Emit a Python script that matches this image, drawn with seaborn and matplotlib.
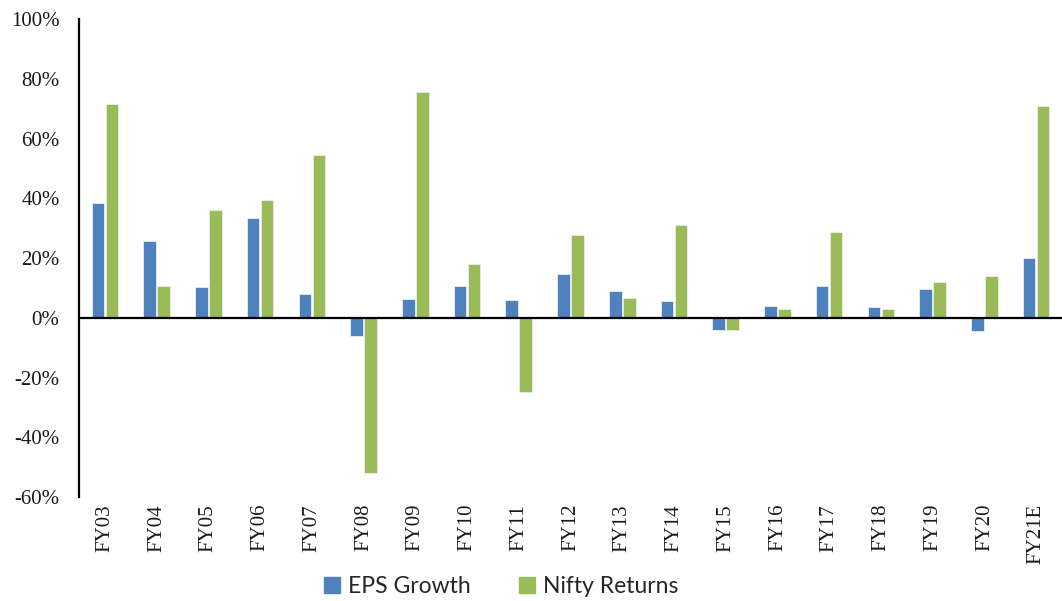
import pandas as pd
import numpy as np
import matplotlib
matplotlib.use("Agg")
import matplotlib.pyplot as plt
import seaborn as sns
from matplotlib.ticker import PercentFormatter

# Values (fractions)
years = ['FY03', 'FY04', 'FY05', 'FY06', 'FY07', 'FY08', 'FY09', 'FY10', 'FY11', 'FY12',
         'FY13', 'FY14', 'FY15', 'FY16', 'FY17', 'FY18', 'FY19', 'FY20', 'FY21E']
eps_growth = [0.383, 0.259, 0.104, 0.334, 0.080, -0.061, 0.062, 0.106, 0.059, 0.147,
              0.089, 0.056, -0.039, 0.039, 0.106, 0.036, 0.097, -0.045, 0.199]
nifty_returns = [0.716, 0.106, 0.360, 0.395, 0.544, -0.519, 0.755, 0.179, -0.248, 0.276,
                 0.066, 0.312, -0.042, 0.029, 0.286, 0.031, 0.119, 0.140, 0.708]
series = ['EPS Growth', 'Nifty Returns']
colors = ['#4F81BD', '#9BBB59']

df = pd.DataFrame({
    'year': years * 2,
    'value': eps_growth + nifty_returns,
    'series': [series[0]] * len(years) + [series[1]] * len(years),
})

sns.set_style('white')
plt.rcParams['font.family'] = ['Liberation Serif', 'DejaVu Serif']
plt.rcParams['axes.unicode_minus'] = False

fig = plt.figure(figsize=(10.62, 6.01), dpi=100)
ax = fig.add_axes([0.0744, 0.173, 0.9256, 0.795])

sns.barplot(data=df, x='year', y='value', hue='series', palette=colors,
            saturation=1, width=0.54, gap=0.1, edgecolor='#e8eef5', linewidth=0.6,
            ax=ax, legend=False)

ax.set_ylim(-0.6, 1.0)
ax.set_yticks(np.arange(-0.6, 1.01, 0.2))
ax.yaxis.set_major_formatter(PercentFormatter(1.0, decimals=0))
ax.set_xlim(-0.5, len(years) - 0.5)
ax.axhline(0, color='black', linewidth=1.6, zorder=3)

for side in ['top', 'right', 'bottom']:
    ax.spines[side].set_visible(False)
ax.spines['left'].set_color('black')
ax.spines['left'].set_linewidth(1.6)

ax.set_xlabel('')
ax.set_ylabel('')
ax.tick_params(axis='y', length=0, pad=14, labelsize=15, colors='#1a1a1a')
ax.tick_params(axis='x', length=0, pad=5, labelsize=15, colors='#1a1a1a')
plt.setp(ax.get_xticklabels(), rotation=90, va='top', ha='center')

handles = [plt.Rectangle((0, 0), 1, 1, color=c) for c in colors]
fig.legend(handles, series, loc='lower center', bbox_to_anchor=(0.472, -0.028),
           ncol=2, frameon=False, handlelength=0.7, handleheight=0.7,
           handletextpad=0.35, columnspacing=2.1,
           prop={'family': ['Lato', 'DejaVu Sans'], 'size': 16.5})

fig.savefig('out.png', dpi=100)
